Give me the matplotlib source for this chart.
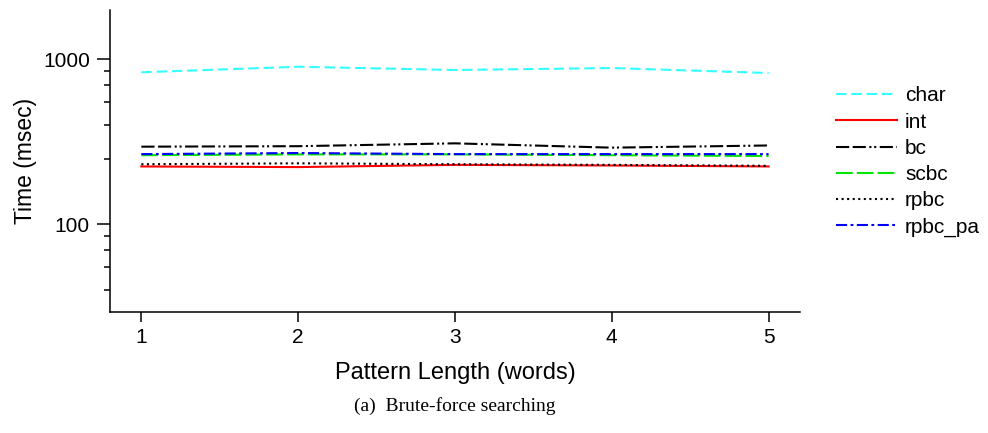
import matplotlib
matplotlib.use("Agg")
import matplotlib.pyplot as plt
from matplotlib.ticker import FixedLocator, NullFormatter

plt.rcParams["font.family"] = ["Liberation Sans", "DejaVu Sans"]
plt.rcParams["lines.scale_dashes"] = False

# Pattern length (words) and search time (msec) per method
pattern_len = [1, 2, 3, 4, 5]
char_ms = [831, 898, 858, 882, 823]
int_ms = [224, 222, 229, 227, 224]
bc_ms = [295, 297, 309, 291, 300]
scbc_ms = [262, 265, 265, 262, 259]
rpbc_ms = [231, 234, 231, 229, 226]
rpbc_pa_ms = [266, 270, 266, 266, 266]

series = [
    ("char", char_ms, "#33FFFF", (7.5, 3.5)),
    ("int", int_ms, "#FF0000", None),
    ("bc", bc_ms, "#000000", (9.5, 2.5, 9.5, 2.5, 1.5, 2.0, 1.5, 2.5)),
    ("scbc", scbc_ms, "#00E600", (12, 3)),
    ("rpbc", rpbc_ms, "#000000", (1.5, 2.5)),
    ("rpbc_pa", rpbc_pa_ms, "#0000FF", (8, 2.5, 2, 2.5)),
]

fig = plt.figure(figsize=(9.88, 4.33), dpi=100)
ax = fig.add_axes([0.1113, 0.2794, 0.6984, 0.6976])

for name, vals, color, dashes in series:
    line, = ax.plot(pattern_len, vals, color=color, lw=1.5, label=name)
    if dashes is not None:
        line.set_dashes(dashes)

ax.set_yscale("log")
ax.set_ylim(29.5, 1980)
ax.set_xlim(0.8, 5.2)

ax.yaxis.set_major_locator(FixedLocator([100, 1000]))
ax.yaxis.set_major_formatter(matplotlib.ticker.FixedFormatter(["100", "1000"]))
ax.yaxis.set_minor_locator(FixedLocator([40, 55, 70, 85, 250, 400, 550, 700, 850]))
ax.yaxis.set_minor_formatter(NullFormatter())
ax.set_xticks(pattern_len)

for side in ("top", "right"):
    ax.spines[side].set_visible(False)
for side in ("left", "bottom"):
    ax.spines[side].set_linewidth(1.1)

ax.tick_params(axis="y", which="major", length=9.5, width=1.1, labelsize=15, pad=5)
ax.tick_params(axis="y", which="minor", length=4, width=1.1)
ax.tick_params(axis="x", which="major", length=7.5, width=1.1, labelsize=15, pad=4)

ax.set_xlabel("Pattern Length (words)", fontsize=17, labelpad=11)
ax.set_ylabel("Time (msec)", fontsize=16.5, labelpad=4)

ax.legend(loc="upper left", bbox_to_anchor=(0.838, 0.82), bbox_transform=fig.transFigure,
          frameon=False, fontsize=15, handlelength=2.9, labelspacing=0.35,
          handletextpad=0.4, borderaxespad=0)

fig.text(0.46, 0.062, "(a)  Brute-force searching", ha="center", va="center",
         fontsize=14, family=["Liberation Serif", "DejaVu Serif"])

fig.savefig("out.png", dpi=100)
